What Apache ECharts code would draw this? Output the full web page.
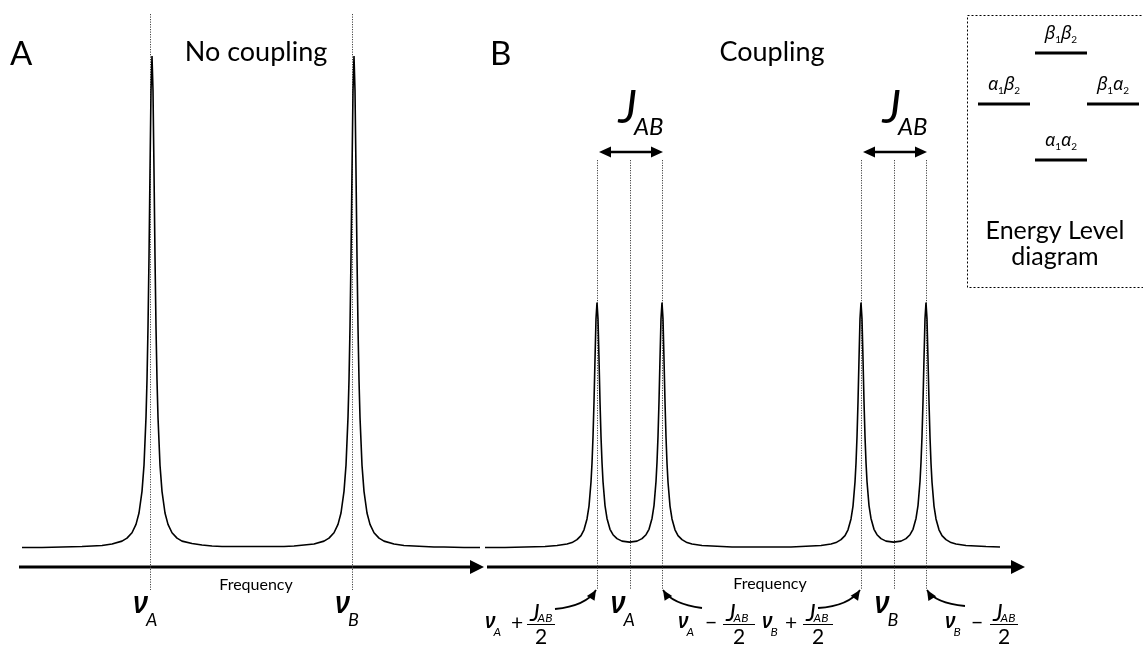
<!DOCTYPE html>
<html><head><meta charset="utf-8">
<script src="https://cdn.jsdelivr.net/npm/echarts@6.0.0/dist/echarts.min.js"></script>
<style>html,body{margin:0;padding:0;background:#fff}#c{width:1143px;height:648px}</style>
</head><body><div id="c"></div>
<script>
// ---- Panel A: uncoupled spectrum (frequency units, relative intensity) ----
const freqA = [0,20,40,60,70,80,90,100,105,110,114,117,120,122,124,125,126,127,128,129,130,131,132,133,134,135,136,138,140,143,146,150,155,160,170,180,190,200,210,220,231,242,252,262,272,282,292,302,307,312,316,319,322,324,326,327,328,329,330,331,332,333,334,335,336,337,338,340,342,345,348,352,357,362,372,382,392,402,412,422,442,458];
const intA = [0.003,0.003,0.004,0.005,0.006,0.007,0.010,0.016,0.022,0.033,0.050,0.073,0.117,0.170,0.267,0.343,0.450,0.592,0.766,0.930,1.000,0.930,0.766,0.592,0.450,0.343,0.267,0.170,0.117,0.073,0.050,0.033,0.022,0.016,0.011,0.008,0.006,0.005,0.005,0.005,0.005,0.005,0.005,0.005,0.006,0.008,0.010,0.016,0.022,0.033,0.050,0.073,0.117,0.170,0.267,0.343,0.450,0.592,0.766,0.930,1.000,0.930,0.766,0.592,0.450,0.343,0.267,0.170,0.117,0.073,0.050,0.033,0.022,0.016,0.010,0.007,0.006,0.005,0.004,0.004,0.003,0.003];
// ---- Panel B: coupled spectrum (two doublets) ----
const freqB = [0,20,40,60,72,82,87,92,96,99,102,104,106,107,108,109,110,111,112,113,114,115,116,117,118,120,122,125,128,132,137,144.5,152,157,161,164,167,169,171,172,173,174,175,176,177,178,179,180,181,182,183,185,187,190,193,197,202,207,217,227,247,276.5,306,326,336,346,351,356,360,363,366,368,370,371,372,373,374,375,376,377,378,379,380,381,382,384,386,389,392,396,401,408.5,416,421,425,428,431,433,435,436,437,438,439,440,441,442,443,444,445,446,447,449,451,454,457,461,466,471,481,501,515];
const intB = [0.003,0.003,0.004,0.005,0.007,0.010,0.013,0.019,0.027,0.039,0.061,0.087,0.136,0.174,0.227,0.298,0.385,0.467,0.500,0.467,0.386,0.299,0.228,0.176,0.137,0.088,0.062,0.040,0.029,0.021,0.016,0.014,0.016,0.021,0.029,0.040,0.062,0.088,0.137,0.176,0.228,0.299,0.386,0.467,0.500,0.467,0.385,0.298,0.227,0.174,0.136,0.087,0.061,0.039,0.027,0.019,0.013,0.010,0.007,0.006,0.004,0.004,0.004,0.006,0.007,0.010,0.013,0.019,0.027,0.039,0.061,0.087,0.136,0.174,0.227,0.298,0.385,0.467,0.500,0.467,0.386,0.299,0.228,0.176,0.137,0.088,0.062,0.040,0.029,0.021,0.016,0.014,0.016,0.021,0.029,0.040,0.062,0.088,0.137,0.176,0.228,0.299,0.386,0.467,0.500,0.467,0.385,0.298,0.227,0.174,0.136,0.087,0.061,0.039,0.027,0.019,0.013,0.010,0.007,0.005,0.004];
// peak / reference positions (frequency units)
const peaksA = [130, 332];
const peakLettersA = ['A', 'B'];
const doubletsB = [[112, 177], [376, 441]];
const centersB = [144.5, 408.5];
const centerLettersB = ['A', 'B'];
const energyLevels = [
  {label: [['β','1'],['β','2']], x1: 1035, x2: 1087, y: 53},
  {label: [['α','1'],['β','2']], x1: 978, x2: 1030, y: 104},
  {label: [['β','1'],['α','2']], x1: 1087, x2: 1139, y: 104},
  {label: [['α','1'],['α','2']], x1: 1035, x2: 1087, y: 160}
];

const chart = echarts.init(document.getElementById('c'), null, {renderer: 'canvas'});
const lineSeries = (fx, fy, idx) => ({
  type: 'line', xAxisIndex: idx, yAxisIndex: idx, silent: true,
  data: fx.map((f, i) => [f, fy[i]]), showSymbol: false, symbol: 'none',
  lineStyle: {color: '#000', width: 1.6}
});
chart.setOption({
  animation: false,
  backgroundColor: '#fff',
  grid: [{left: 22, top: 56, width: 458, height: 493}, {left: 485, top: 56, width: 515, height: 493}],
  xAxis: [{type: 'value', gridIndex: 0, min: 0, max: 458, show: false},
          {type: 'value', gridIndex: 1, min: 0, max: 515, show: false}],
  yAxis: [{type: 'value', gridIndex: 0, min: 0, max: 1, show: false},
          {type: 'value', gridIndex: 1, min: 0, max: 1, show: false}],
  series: [lineSeries(freqA, intA, 0), lineSeries(freqB, intB, 1)]
});

const X = (g, v) => chart.convertToPixel({xAxisIndex: g}, v);
const FL = 'Lato, "Noto Sans", sans-serif';
const FG = '"Noto Sans", "DejaVu Sans", sans-serif';
const cx = document.createElement('canvas').getContext('2d');
const fontStr = (s, it, f, wt) => (it ? 'italic ' : '') + (wt || 'normal') + ' ' + s + 'px ' + (f || FL);
const meas = (t, s, it, f, wt) => { cx.font = fontStr(s, it, f, wt); return cx.measureText(t).width; };
function T(t, x, base, s, o) {
  o = o || {};
  const al = o.al || 'left';
  return {type: 'text', x: x, y: base - 0.38 * s, silent: true,
    style: {text: t, font: fontStr(s, o.it, o.f, o.wt), fill: '#000',
      textAlign: al, align: al, textVerticalAlign: 'middle', verticalAlign: 'middle'}};
}
const L = (x1, y1, x2, y2, w, dash, col) => ({type: 'line', silent: true,
  shape: {x1, y1, x2, y2}, style: {stroke: col || '#000', lineWidth: w, lineDash: dash || null}});
function head(tx, ty, dx, dy, len, hw) {
  const n = Math.hypot(dx, dy); dx /= n; dy /= n;
  const bx = tx - dx * len, by = ty - dy * len;
  return {type: 'polygon', silent: true, shape: {points: [[tx, ty], [bx - dy * hw, by + dx * hw], [bx + dy * hw, by - dx * hw]]}, style: {fill: '#000'}};
}
const els = [];
const dot = [1.2, 1.3];
// panel titles
els.push(T('A', 10, 67, 33));
els.push(T('No coupling', 256, 63, 27, {al: 'center'}));
els.push(T('B', 490, 67, 33));
els.push(T('Coupling', 772, 63, 27, {al: 'center'}));
// frequency axes (arrows)
els.push(L(19, 567, 472, 567, 3.2));
els.push(head(484, 567, 1, 0, 14, 7));
els.push(L(487, 567, 1013, 567, 3.2));
els.push(head(1025, 567, 1, 0, 14, 7));
els.push(T('Frequency', 256, 591, 16, {al: 'center'}));
els.push(T('Frequency', 770, 590, 16, {al: 'center'}));
// big nu labels
function nuBig(px, letter) {
  const w = meas('ν', 30, true, FG, '600');
  els.push(T('ν', px - 19, 616, 30, {it: true, f: FG, wt: '600'}));
  els.push(T(letter, px - 19 + w - 2, 627, 18, {it: true}));
}
// panel A reference lines
peaksA.forEach((p, i) => {
  const x = Math.round(X(0, p)) - 1.5;
  els.push(L(x, 14, x, 590, 1, dot, '#444'));
  nuBig(X(0, p), peakLettersA[i]);
});
// panel B reference lines, J arrows and labels
doubletsB.forEach((d, i) => {
  const p1 = X(1, d[0]), p2 = X(1, d[1]), pc = X(1, centersB[i]);
  [p1, pc, p2].forEach(p => { const x = Math.round(p) + 0.5; els.push(L(x, 160, x, 590, 1, dot, '#444')); });
  els.push(L(p1 + 10, 152, p2 - 10, 152, 2.6));
  els.push(head(p1 + 2, 152, -1, 0, 12, 5.5));
  els.push(head(p2 + 1, 152, 1, 0, 12, 5.5));
  const c = (p1 + p2) / 2;
  const wJ = meas('J', 46, true);
  els.push(T('J', c - 11, 126, 46, {it: true}));
  els.push(T('AB', c - 11 + wJ - 3, 136, 24, {it: true}));
  nuBig(pc, centerLettersB[i]);
});
// small labels with fractions
function fracLabel(xl, letter, op, opX, barL, barW) {
  const wn = meas('ν', 21, true, FG, '600');
  els.push(T('ν', xl, 630, 21, {it: true, f: FG, wt: '600'}));
  els.push(T(letter, xl + wn - 2, 637, 12, {it: true}));
  els.push(T(op, opX, 631, 21, {al: 'center'}));
  const wJ = meas('J', 24, true);
  els.push(T('J', barL + 3, 622, 24, {it: true}));
  els.push(T('AB', barL + 3 + wJ - 2, 623, 12, {it: true}));
  els.push(L(barL, 624.5, barL + barW, 624.5, 1));
  els.push(T('2', barL + barW / 2, 645, 21, {al: 'center'}));
}
fracLabel(485, 'A', '+', 517, 527, 28);
fracLabel(678, 'A', '\u2212', 711, 723, 32);
fracLabel(762, 'B', '+', 791, 803, 30);
fracLabel(945, 'B', '\u2212', 977, 990, 28);
// curved pointer arrows
function curved(tx, ty, hx, hy, cpx, cpy) {
  els.push({type: 'bezierCurve', silent: true, shape: {x1: tx, y1: ty, x2: hx, y2: hy, cpx1: cpx, cpy1: cpy},
    style: {stroke: '#000', lineWidth: 1.8, fill: 'none'}});
  els.push(head(hx, hy, hx - cpx, hy - cpy, 10, 4.5));
}
curved(555, 609, X(1, doubletsB[0][0]) - 1, 590, 586, 606);
curved(702, 608, X(1, doubletsB[0][1]) + 1, 590, 672, 604);
curved(818, 608, X(1, doubletsB[1][0]) - 1, 590, 849, 606);
curved(965, 606, X(1, doubletsB[1][1]) + 1, 590, 935, 603);
// energy level diagram
els.push({type: 'rect', silent: true, shape: {x: 967.5, y: 15.5, width: 200, height: 272},
  style: {fill: 'none', stroke: '#000', lineWidth: 1, lineDash: [2, 2]}});
energyLevels.forEach(lv => {
  els.push(L(lv.x1, lv.y, lv.x2, lv.y, 3));
  const parts = [];
  lv.label.forEach(pr => { parts.push({t: pr[0], s: 18, it: true, f: FG, dy: 0}); parts.push({t: pr[1], s: 10, it: false, f: FL, dy: 3}); });
  const ws = parts.map(p => meas(p.t, p.s, p.it, p.f));
  let cur = (lv.x1 + lv.x2) / 2 - ws.reduce((a, b) => a + b, 0) / 2;
  parts.forEach((p, i) => { els.push(T(p.t, cur, lv.y - 12 + p.dy, p.s, {it: p.it, f: p.f})); cur += ws[i]; });
});
els.push(T('Energy Level', 1055, 240, 25, {al: 'center'}));
els.push(T('diagram', 1055, 266, 25, {al: 'center'}));

chart.setOption({graphic: {elements: els}});
</script>
</body></html>
